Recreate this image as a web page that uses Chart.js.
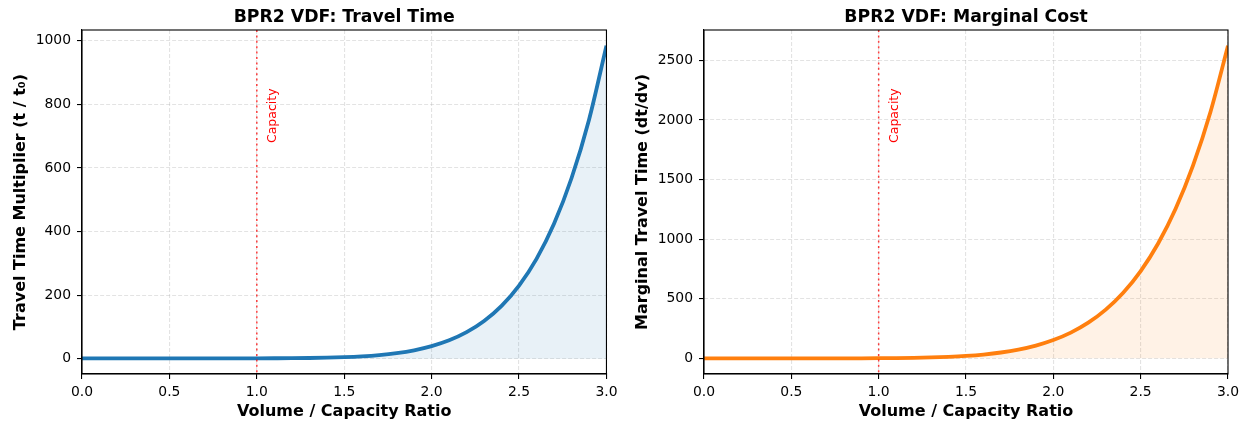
<!DOCTYPE html>
<html>
<head>
<meta charset="utf-8">
<script src="https://cdn.jsdelivr.net/npm/chart.js@4.4.1/dist/chart.umd.min.js"></script>
<style>
  html, body { margin: 0; padding: 0; background: #fff; }
  #wrap { position: relative; width: 1247px; height: 424px; }
  canvas { position: absolute; top: 0; }
</style>
</head>
<body>
<div id="wrap">
  <canvas id="c1" width="623" height="424" style="left:0"></canvas>
  <canvas id="c2" width="624" height="424" style="left:623px"></canvas>
</div>
<script>
// ---- data ----
const vcRatio = [0.0,0.1,0.2,0.3,0.4,0.5,0.6,0.7,0.8,0.9,1.0,1.1,1.2,1.3,1.4,1.5,1.6,1.7,1.8,1.9,2.0,2.1,2.2,2.3,2.4,2.5,2.6,2.7,2.8,2.9,3.0];
const travelTime = [1,1,1,1,1,1,1,1.01,1.03,1.06,1.15,1.32,1.64,2.22,3.21,4.84,7.44,11.46,17.53,26.47,39.4,57.7,83.3,118.5,166.1,229.9,314.2,424.6,567.7,751.3,985];
const marginalCost = [0,0,0,0,0,0.01,0.03,0.1,0.25,0.57,1.2,2.34,4.3,7.53,12.65,20.5,32.2,49.2,73.5,107.2,153.6,216.1,299.3,408.6,550.3,732.4,963.8,1255.3,1619.2,2069.9,2624.4];
const xTicks = [0,0.5,1.0,1.5,2.0,2.5,3.0];
const yTicksLeft = [0,200,400,600,800,1000];
const yTicksRight = [0,500,1000,1500,2000,2500];
const capacityX = 1.0;
const titles = ['BPR2 VDF: Travel Time', 'BPR2 VDF: Marginal Cost'];
const yTitles = ['Travel Time Multiplier (t / t\u2080)', 'Marginal Travel Time (dt/dv)'];
const xTitle = 'Volume / Capacity Ratio';

const FONT = "'DejaVu Sans', sans-serif";

function pad5(arr) {
  const mn = Math.min(...arr), mx = Math.max(...arr);
  const r = mx - mn;
  return [mn - 0.05 * r, mx + 0.05 * r];
}

const decor = {
  id: 'decor',
  afterDatasetsDraw(chart, args, opts) {
    const {ctx, chartArea: a, scales: {x, y}} = chart;
    // capacity line
    ctx.save();
    ctx.beginPath();
    ctx.rect(a.left, a.top, a.right - a.left, a.bottom - a.top);
    ctx.clip();
    const px = x.getPixelForValue(capacityX);
    ctx.strokeStyle = 'rgba(255,0,0,0.75)';
    ctx.lineWidth = 1.5;
    ctx.setLineDash([2, 3.4]);
    ctx.beginPath();
    ctx.moveTo(px, a.top);
    ctx.lineTo(px, a.bottom);
    ctx.stroke();
    ctx.restore();
    // capacity text
    ctx.save();
    const tx = x.getPixelForValue(capacityX + 0.05);
    const ty = y.getPixelForValue(0.7 * opts.maxVal);
    ctx.translate(tx, ty);
    ctx.rotate(-Math.PI / 2);
    ctx.fillStyle = 'red';
    ctx.font = "12.5px " + FONT;
    ctx.textBaseline = 'top';
    ctx.textAlign = 'left';
    ctx.fillText('Capacity', -3.5, 1);
    ctx.restore();
  },
  afterDraw(chart, args, opts) {
    const {ctx, chartArea: a} = chart;
    ctx.save();
    ctx.strokeStyle = '#000';
    ctx.lineWidth = 1.1;
    ctx.setLineDash([]);
    ctx.strokeRect(a.left, a.top, a.right - a.left, a.bottom - a.top);
    ctx.fillStyle = '#000';
    ctx.font = "bold 17.3px " + FONT;
    ctx.textAlign = 'center';
    ctx.textBaseline = 'middle';
    ctx.fillText(opts.title, (a.left + a.right) / 2, 17.5);
    ctx.restore();
  }
};

function makeChart(id, values, color, fill, yTicks, title, yTitle, yWidth, padRight, yTitlePad) {
  const [ymin, ymax] = pad5(values);
  const pts = vcRatio.map((v, i) => ({x: v, y: values[i]}));
  const gridOpts = {
    color: 'rgba(176,176,176,0.35)',
    lineWidth: 1.1,
    tickColor: '#000',
    tickLength: 5,
    tickWidth: 1.1,
    tickBorderDash: []
  };
  const borderOpts = { display: true, color: '#000', width: 1.1, dash: [4, 2] };
  return new Chart(document.getElementById(id), {
    type: 'line',
    data: {
      datasets: [{
        data: pts,
        borderColor: color,
        backgroundColor: fill,
        borderWidth: 3.8,
        fill: 'origin',
        pointRadius: 0,
        cubicInterpolationMode: 'monotone'
      }]
    },
    options: {
      responsive: false,
      animation: false,
      devicePixelRatio: 1,
      layout: { padding: { left: 0, right: padRight, top: 30, bottom: 0 } },
      plugins: {
        legend: { display: false },
        tooltip: { enabled: false },
        decor: { title: title, maxVal: Math.max(...values) }
      },
      scales: {
        x: {
          type: 'linear',
          min: 0, max: 3,
          afterBuildTicks: s => { s.ticks = xTicks.map(v => ({value: v})); },
          afterFit: s => { s.height = 50; },
          ticks: {
            callback: v => Number(v).toFixed(1),
            color: '#000',
            font: { family: FONT, size: 13.9 },
            padding: 5.5,
            maxRotation: 0,
            autoSkip: false
          },
          grid: gridOpts,
          border: borderOpts,
          title: {
            display: true,
            text: xTitle,
            color: '#000',
            font: { family: FONT, size: 16, weight: 'bold' },
            padding: { top: 0, bottom: 2.4 }
          }
        },
        y: {
          min: ymin, max: ymax,
          afterBuildTicks: s => { s.ticks = yTicks.map(v => ({value: v})); },
          afterFit: s => { s.width = yWidth; },
          ticks: {
            callback: v => String(v),
            color: '#000',
            font: { family: FONT, size: 13.9 },
            padding: 6,
            autoSkip: false
          },
          grid: gridOpts,
          border: borderOpts,
          title: {
            display: true,
            text: yTitle,
            color: '#000',
            font: { family: FONT, size: 16, weight: 'bold' },
            padding: { top: yTitlePad, bottom: 0 }
          }
        }
      }
    },
    plugins: [decor]
  });
}

makeChart('c1', travelTime, '#1f77b4', 'rgba(31,119,180,0.1)', yTicksLeft, titles[0], yTitles[0], 82, 16, 10.8);
makeChart('c2', marginalCost, '#ff7f0e', 'rgba(255,127,14,0.1)', yTicksRight, titles[1], yTitles[1], 81, 19, 9.8);
</script>
</body>
</html>
